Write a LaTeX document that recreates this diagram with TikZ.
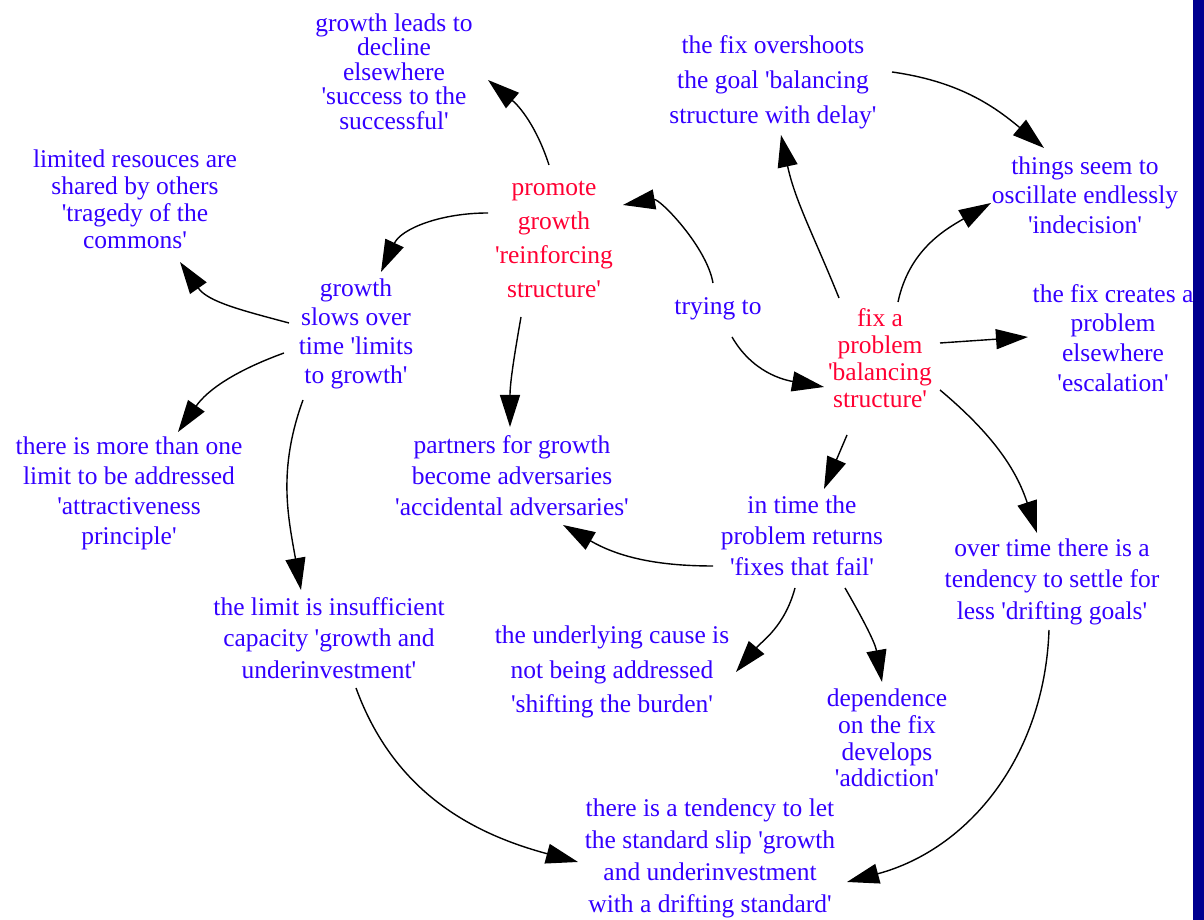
\documentclass[tikz,border=0pt]{standalone}
\usepackage{fontspec}
\setmainfont{Liberation Serif}
\usepackage{xcolor}
\usepackage{tikz}
\usetikzlibrary{arrows.meta}

\definecolor{noteblue}{RGB}{51,0,255}
\definecolor{notered}{RGB}{255,0,51}
\definecolor{bandnavy}{RGB}{0,0,144}
\newcommand{\sq}{\textquotesingle}

\begin{document}
\begin{tikzpicture}[x=1pt, y=1pt,
  note/.style={font=\fontsize{25.5}{#1}\selectfont, text=noteblue, align=center, inner sep=0pt},
  note/.default=28,
  core/.style={note=#1, text=notered},
  arr/.style={-{Triangle[length=32pt, width=20pt]}, line width=1.4pt, black}
]
  \useasboundingbox (0,0) rectangle (1204,920);
  \fill[bandnavy] (1193,0) rectangle (1204,920);

  % The two core structures
  \node[core=34] (promote) at (554,681) {promote\\growth\\\sq reinforcing\\structure\sq};
  \node[core=27] (fixprob) at (880,562) {fix a\\problem\\\sq balancing\\structure\sq};
  \node[note] (trying) at (718,611) {trying to};

  % Growth side
  \node[note=24.5] (decline) at (394,848.5) {growth leads to\\decline\\elsewhere\\\sq success to the\\successful\sq};
  \node[note=27] (tragedy) at (135,721) {limited resouces are\\shared by others\\\sq tragedy of the\\commons\sq};
  \node[note=29] (limits) at (356,586) {growth\\slows over\\time \sq limits\\to growth\sq};
  \node[note=30] (attract) at (129,427) {there is more than one\\limit to be addressed\\\sq attractiveness\\principle\sq};
  \node[note=31] (partners) at (512,444) {partners for growth\\become adversaries\\\sq accidental adversaries\sq};
  \node[note=31.5] (underinv) at (329,282) {the limit is insufficient\\capacity \sq growth and\\underinvestment\sq};

  % Fix side
  \node[note=35] (overshoot) at (773,838) {the fix overshoots\\the goal \sq balancing\\structure with delay\sq};
  \node[note=29.5] (oscillate) at (1085,725) {things seem to\\oscillate endlessly\\\sq indecision\sq};
  \node[note=29.7] (escalate) at (1113,582) {the fix creates a\\problem\\elsewhere\\\sq escalation\sq};
  \node[note=31] (fixfail) at (802,384) {in time the\\problem returns\\\sq fixes that fail\sq};
  \node[note=31.5] (drifting) at (1052,338.5) {over time there is a\\tendency to settle for\\less \sq drifting goals\sq};
  \node[note=34.5] (shifting) at (612,248) {the underlying cause is\\not being addressed\\\sq shifting the burden\sq};
  \node[note=26.7] (addiction) at (887,182) {dependence\\on the fix\\develops\\\sq addiction\sq};
  \node[note=32] (standard) at (710,62) {there is a tendency to let\\the standard slip \sq growth\\and underinvestment\\with a drifting standard\sq};

  % Arrows
  \draw[arr] ([shift={(-5,74)}]promote.center) to[out=108, in=-40] ([shift={(94,-8.5)}]decline.center);
  \draw[arr] ([shift={(-66,26)}]promote.center) to[out=180, in=65] ([shift={(25,62)}]limits.center);
  \draw[arr] ([shift={(-67,11)}]limits.center) to[out=165, in=-55] ([shift={(45,-63)}]tragedy.center);
  \draw[arr] ([shift={(-72,-19)}]limits.center) to[out=200, in=55] ([shift={(49,61)}]attract.center);
  \draw[arr] ([shift={(-53,-66)}]limits.center) to[out=250, in=100] ([shift={(-28,48)}]underinv.center);
  \draw[arr] ([shift={(-33,-78)}]promote.center) to[out=260, in=90] ([shift={(-2,49)}]partners.center);
  \draw[arr] ([shift={(-5,26)}]trying.center) to[out=100, in=10, looseness=0.8] ([shift={(69,34)}]promote.center);
  \draw[arr] ([shift={(14,-28)}]trying.center) to[out=-60, in=170] ([shift={(-56,-29)}]fixprob.center);
  \draw[arr] ([shift={(-41,60)}]fixprob.center) to[out=112, in=-78] ([shift={(8,-53)}]overshoot.center);
  \draw[arr] ([shift={(119,10)}]overshoot.center) to[out=-8, in=140] ([shift={(-41,47)}]oscillate.center);
  \draw[arr] ([shift={(18,56)}]fixprob.center) to[out=78, in=-150] ([shift={(-94,-8)}]oscillate.center);
  \draw[arr] ([shift={(60,15)}]fixprob.center) -- ([shift={(-85,1)}]escalate.center);
  \draw[arr] ([shift={(60,-32)}]fixprob.center) to[out=-40, in=108] ([shift={(-15,48.5)}]drifting.center);
  \draw[arr] ([shift={(-33,-77)}]fixprob.center) -- ([shift={(22,47)}]fixfail.center);
  \draw[arr] ([shift={(-89,-30)}]fixfail.center) to[out=180, in=-30] ([shift={(51,-49)}]partners.center);
  \draw[arr] ([shift={(-7,-52)}]fixfail.center) to[out=-105, in=50] ([shift={(124,0)}]shifting.center);
  \draw[arr] ([shift={(43,-52)}]fixfail.center) to[out=-60, in=100] ([shift={(-5,56)}]addiction.center);
  \draw[arr] ([shift={(27,-50)}]underinv.center) to[out=-70, in=165] ([shift={(-132,-4)}]standard.center);
  \draw[arr] ([shift={(-3,-48.5)}]drifting.center) to[out=-92, in=15] ([shift={(137,-24)}]standard.center);
\end{tikzpicture}
\end{document}
